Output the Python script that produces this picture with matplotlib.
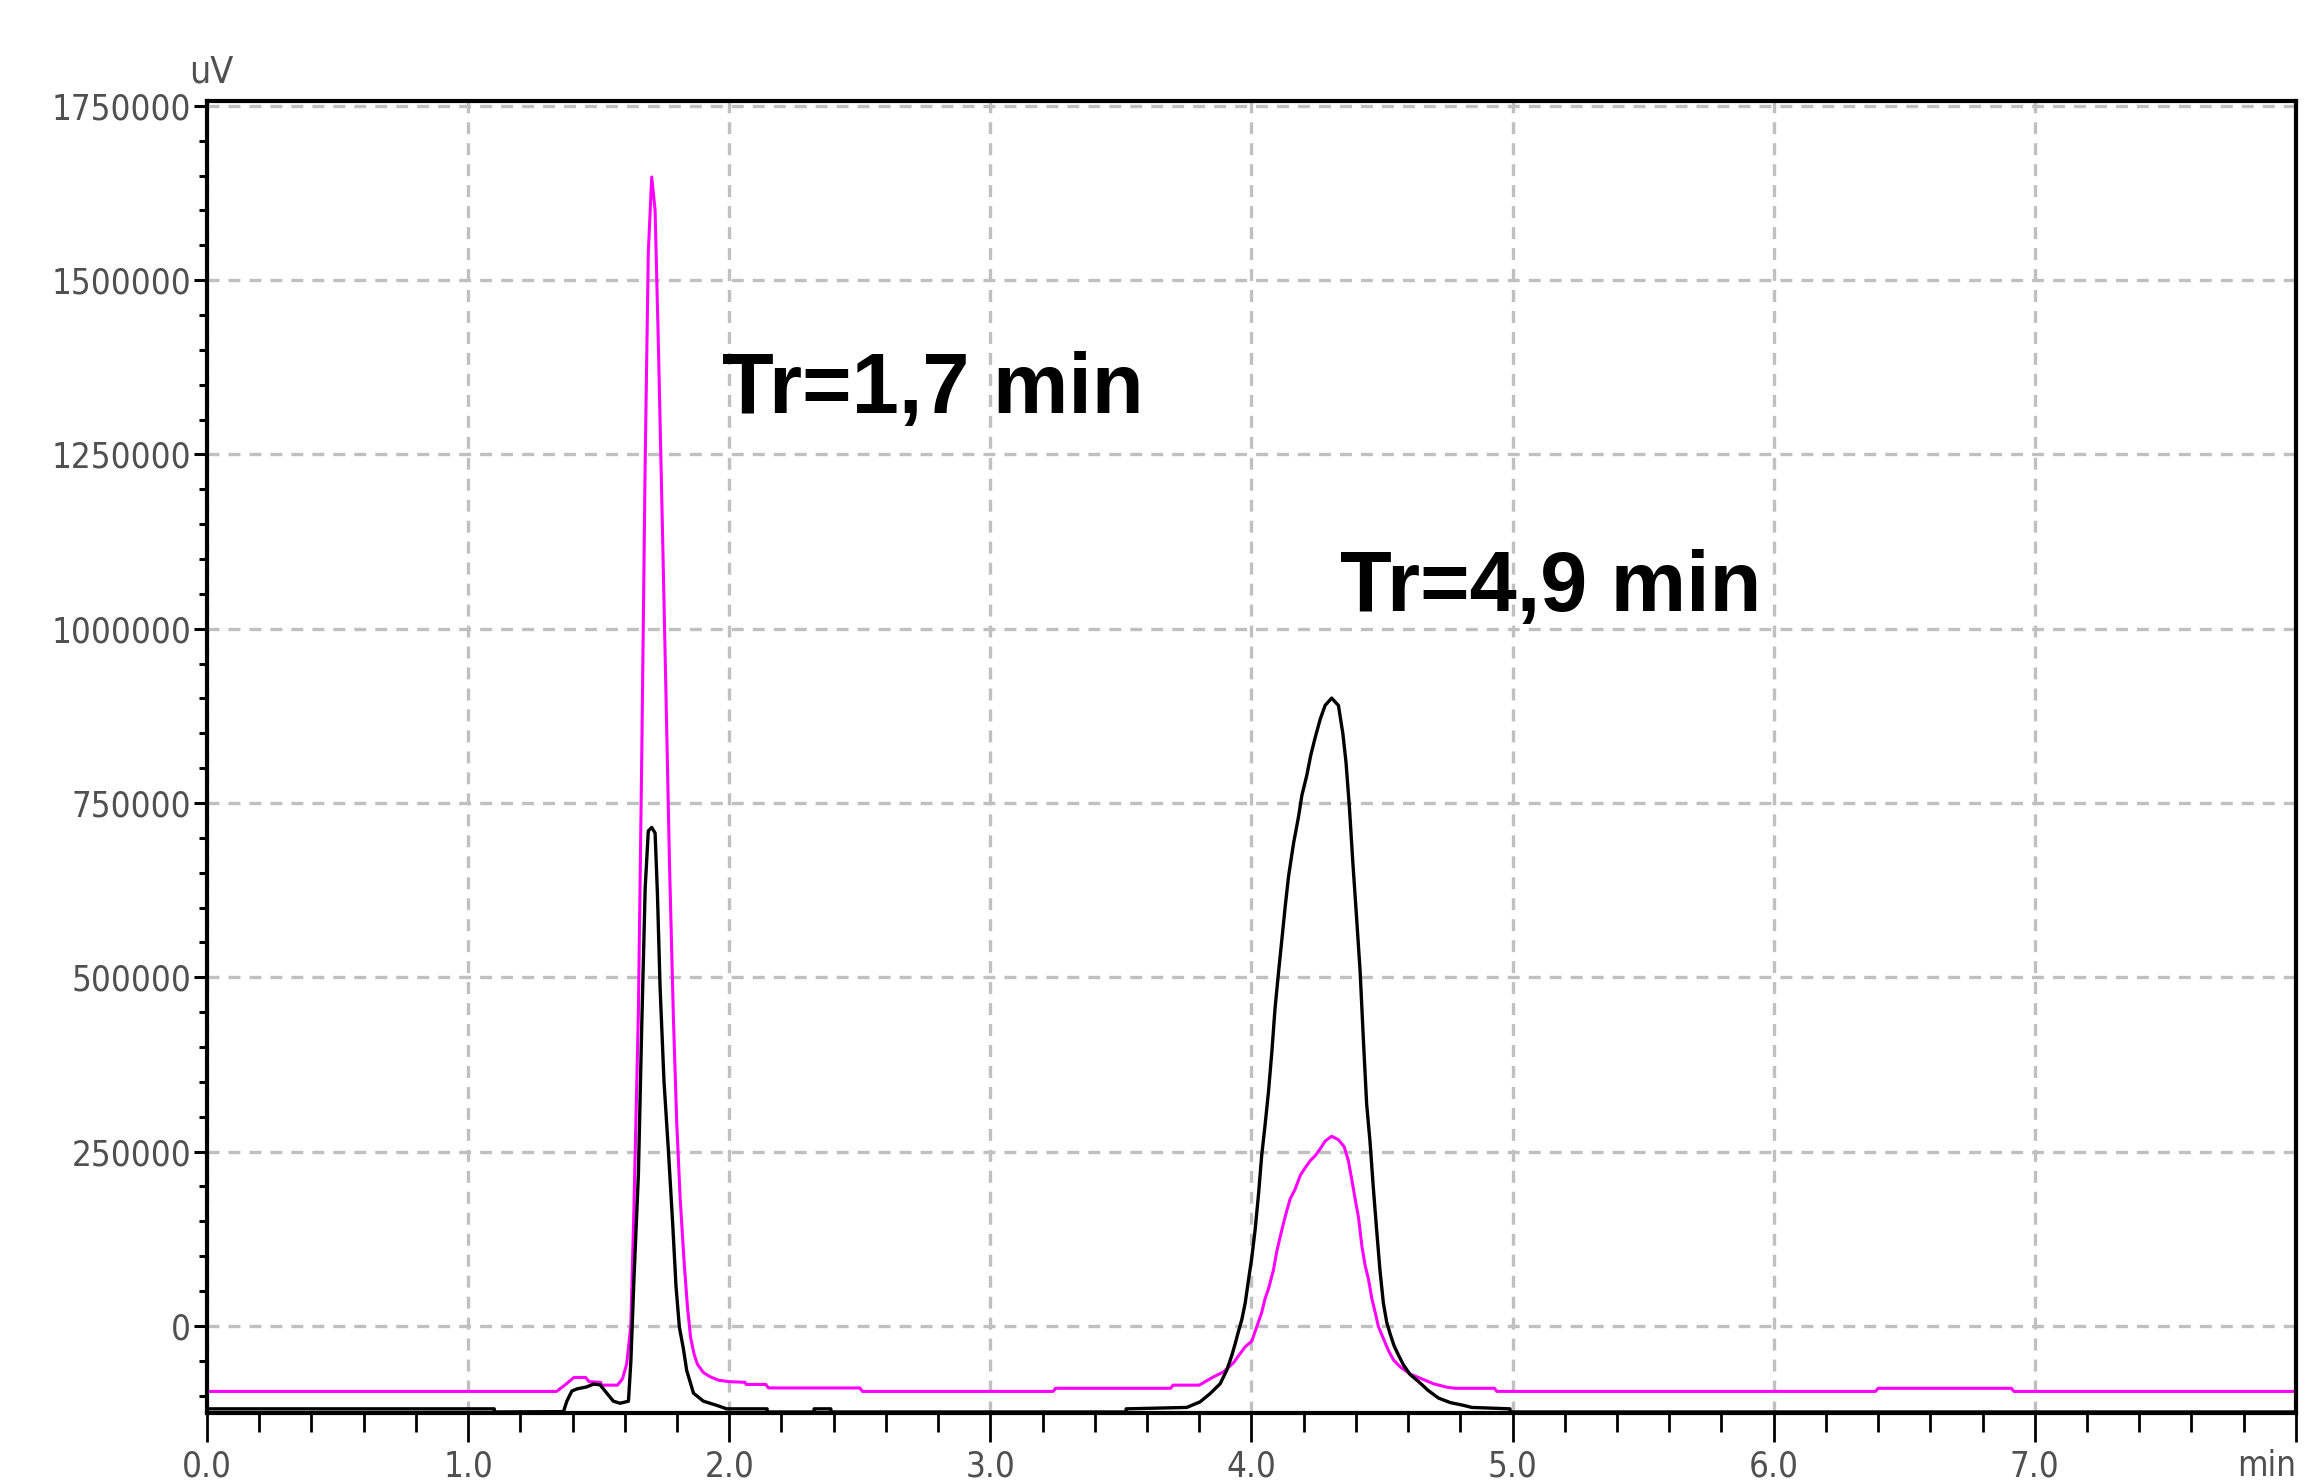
import numpy as np
import matplotlib.pyplot as plt
from matplotlib import font_manager as fm
from matplotlib.ticker import MultipleLocator

# chromatogram traces, time in min, signal in uV
black_t = [0.00, 1.10, 1.10, 1.365, 1.378, 1.397, 1.416, 1.454, 1.480, 1.505, 1.531, 1.556,
           1.582, 1.614, 1.623, 1.635, 1.652, 1.665, 1.678, 1.690, 1.703, 1.716, 1.725, 1.735,
           1.750, 1.767, 1.784, 1.796, 1.809, 1.824, 1.837, 1.863, 1.901, 1.952, 1.990, 2.145,
           2.145, 2.325, 2.325, 2.389, 2.389, 3.52, 3.52, 3.752, 3.803, 3.842, 3.880, 3.906,
           3.925, 3.938, 3.950, 3.963, 3.976, 3.989, 4.001, 4.014, 4.027, 4.039, 4.052, 4.065,
           4.078, 4.090, 4.103, 4.116, 4.129, 4.142, 4.161, 4.180, 4.193, 4.212, 4.227, 4.244,
           4.263, 4.282, 4.307, 4.333, 4.350, 4.362, 4.375, 4.388, 4.401, 4.416, 4.429, 4.441,
           4.454, 4.467, 4.480, 4.492, 4.505, 4.518, 4.531, 4.546, 4.563, 4.582, 4.607, 4.640,
           4.678, 4.716, 4.761, 4.812, 4.844, 4.99, 4.99, 8.00]
black_v = [-119000, -119000, -123500, -123000, -108000, -93500, -90500, -87500, -83500, -84500,
           -96500, -108000, -111000, -108000, -52000, 67000, 217000, 433000, 628000, 710000,
           715000, 707000, 619000, 486000, 351000, 251000, 142000, 57000, -2000, -32000, -64000,
           -96500, -108000, -114000, -119000, -119000, -123500, -123500, -119000, -119000,
           -123500, -123500, -119000, -117000, -109000, -97000, -83000, -63000, -42000, -25000,
           -8000, 9000, 33000, 67000, 97500, 138000, 189000, 244000, 288000, 335500, 393000,
           454500, 505000, 553000, 601000, 645000, 692000, 730000, 761000, 790000, 818500,
           844000, 870000, 890000, 900500, 890000, 849500, 808500, 744000, 665500, 594000,
           509000, 407000, 318500, 264000, 196000, 134500, 80000, 33000, 5000, -11500, -28500,
           -42000, -56000, -69500, -80000, -93000, -103500, -110000, -114000, -117000, -119000,
           -123500, -123500]

mag_t = [0.00, 1.339, 1.370, 1.405, 1.450, 1.463, 1.508, 1.510, 1.572, 1.591, 1.607, 1.623,
         1.635, 1.652, 1.665, 1.678, 1.690, 1.703, 1.716, 1.729, 1.744, 1.758, 1.771, 1.786,
         1.799, 1.812, 1.827, 1.840, 1.852, 1.865, 1.878, 1.901, 1.927, 1.959, 2.000, 2.060,
         2.065, 2.140, 2.150, 2.500, 2.510, 3.240, 3.250, 3.690, 3.700, 3.800, 3.855, 3.893,
         3.932, 3.958, 3.976, 4.001, 4.020, 4.039, 4.052, 4.065, 4.084, 4.097, 4.110, 4.123,
         4.135, 4.148, 4.167, 4.187, 4.206, 4.225, 4.244, 4.263, 4.282, 4.307, 4.333, 4.355,
         4.371, 4.384, 4.397, 4.410, 4.423, 4.435, 4.448, 4.461, 4.474, 4.486, 4.505, 4.524,
         4.544, 4.570, 4.607, 4.646, 4.697, 4.748, 4.780, 4.930, 4.940, 6.390, 6.400, 6.910,
         6.920, 8.00]
mag_v = [-94000, -94000, -85000, -74000, -74000, -80000, -81000, -85000, -85000, -76000, -55000,
         0, 170000, 450000, 820000, 1240000, 1540000, 1648000, 1600000, 1400000, 1145000,
         900000, 665000, 443000, 290000, 183000, 92000, 27000, -17000, -40000, -55000, -67000,
         -73000, -78000, -80000, -81000, -84000, -84000, -89000, -89000, -94000, -94000, -89500,
         -89500, -85000, -85000, -73000, -66000, -52500, -39000, -30000, -22000, -1500, 19000,
         39000, 53000, 80000, 107000, 128000, 148000, 165000, 182000, 196000, 216000, 227000,
         237000, 244000, 254000, 265000, 272000, 267000, 257000, 237000, 210000, 182000, 155000,
         114000, 87000, 67000, 39000, 19000, -1000, -18000, -35000, -49000, -59000, -69000,
         -75000, -83000, -88000, -89500, -89500, -94000, -94000, -89500, -89500, -94000, -94000]

y_ticks = [0, 250000, 500000, 750000, 1000000, 1250000, 1500000, 1750000]
y_labels = ['0', '250000', '500000', '750000', '1000000', '1250000', '1500000', '1750000']
x_ticks = [0, 1, 2, 3, 4, 5, 6, 7, 8]
x_labels = ['0.0', '1.0', '2.0', '3.0', '4.0', '5.0', '6.0', '7.0', 'min']

plt.rcParams['lines.scale_dashes'] = False

# narrow font for the axis labels, if one is installed
fonts = fm.fontManager.ttflist
if any(f.name == 'Liberation Sans Narrow' for f in fonts):
    tick_font = {'family': ['Liberation Sans Narrow', 'DejaVu Sans'], 'size': 29}
elif any(f.name == 'DejaVu Sans' and f.stretch == 'condensed' for f in fonts):
    tick_font = {'family': ['DejaVu Sans'], 'stretch': 'condensed', 'size': 25}
else:
    tick_font = {'family': ['DejaVu Sans'], 'size': 21}

grey = '#505050'

fig = plt.figure(figsize=(23.21, 14.81), dpi=100)
ax = fig.add_axes([0.0892, 0.0459, 0.9000, 0.8859])

ax.plot(mag_t, mag_v, color='#ff00ff', lw=2.2, zorder=3)
ax.plot(black_t, black_v, color='black', lw=2.4, zorder=4)

ax.set_xlim(0, 8)
ax.set_ylim(-125000, 1757000)

ax.set_yticks(y_ticks)
ax.set_yticklabels(y_labels, fontdict=tick_font, color=grey)
ax.set_xticks(x_ticks)
ax.set_xticklabels(x_labels, fontdict=tick_font, color=grey)
ax.get_xticklabels()[-1].set_horizontalalignment('right')
ax.yaxis.set_minor_locator(MultipleLocator(50000))
ax.xaxis.set_minor_locator(MultipleLocator(0.2))

ax.tick_params(axis='y', which='major', direction='out', length=9.5, width=2.2, pad=2)
ax.tick_params(axis='y', which='minor', direction='out', length=6, width=2.2)
ax.tick_params(axis='x', which='major', direction='out', length=21, width=2, pad=5)
ax.tick_params(axis='x', which='minor', direction='out', length=14, width=2)

for s in ax.spines.values():
    s.set_linewidth(3.0)
    s.set_color('black')
    s.set_zorder(5)

ax.grid(True, which='major', color='#c0c0c0', lw=2.4, linestyle=(0, (8.6, 6.5)), zorder=1)

ax.text(0.002, 1.008, 'uV', transform=ax.transAxes, ha='center', va='bottom',
        color=grey, fontfamily=tick_font['family'], fontsize=tick_font['size'] + 2,
        fontstretch=tick_font.get('stretch', 'normal'))

ax.text(1.972, 1309000, 'Tr=1,7 min', fontsize=61, fontweight='bold',
        family=['Liberation Sans', 'DejaVu Sans'], ha='left', va='baseline')
ax.text(4.339, 1025000, 'Tr=4,9 min', fontsize=61, fontweight='bold',
        family=['Liberation Sans', 'DejaVu Sans'], ha='left', va='baseline')

fig.savefig('out.png', dpi=100)
